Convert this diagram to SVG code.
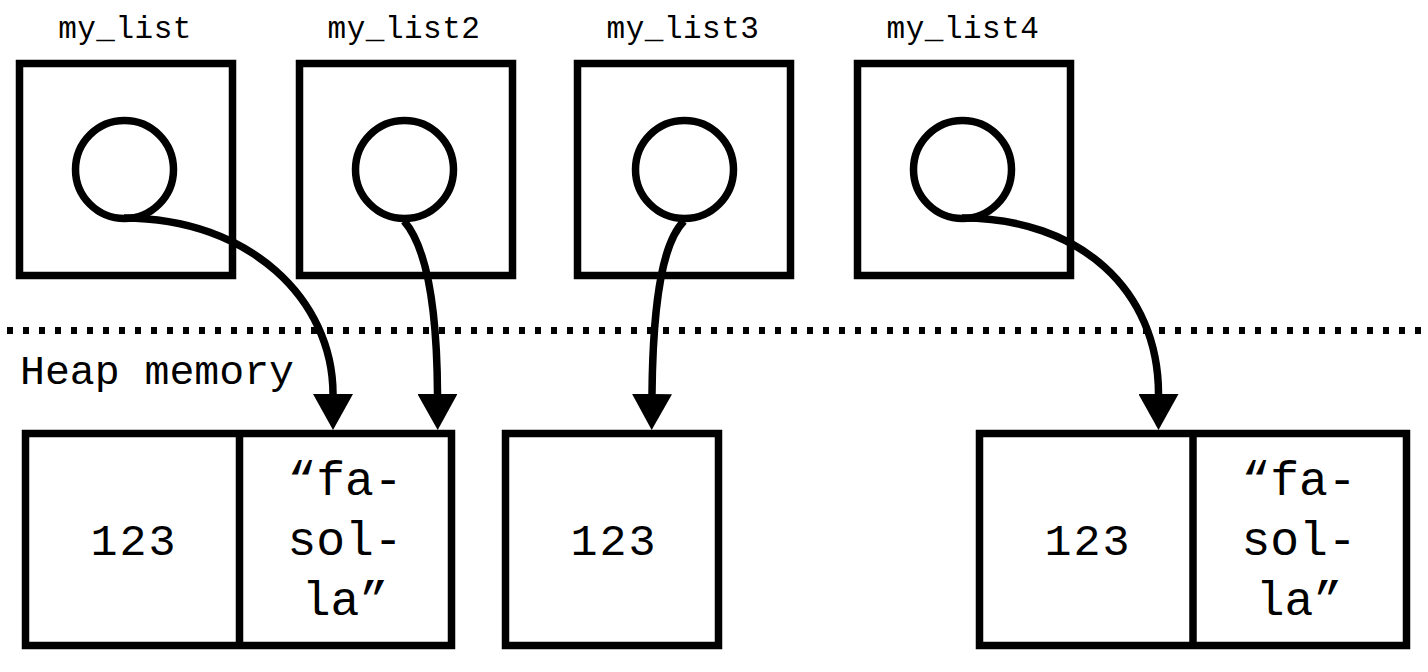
<svg xmlns="http://www.w3.org/2000/svg" width="1428" height="672" viewBox="0 0 1428 672">
<style>
.box{fill:#fff;stroke:#000;stroke-width:7.5}
.ptr{fill:none;stroke:#000;stroke-width:7.5}
.lbl{font-family:"Liberation Mono","Courier New",monospace;font-size:31px;text-anchor:middle;fill:#000;letter-spacing:0.5px}
.num{font-family:"Liberation Mono","DejaVu Sans Mono",monospace;font-size:45px;text-anchor:middle;fill:#000;letter-spacing:2px}
.str{font-family:"Liberation Mono","Courier New",monospace;font-size:48px;text-anchor:middle;fill:#000}
.heap{font-family:"Liberation Mono","Courier New",monospace;font-size:41.5px;fill:#000}
.arr{fill:none;stroke:#000;stroke-width:7.5}
</style>
<defs>
<marker id="ah" markerUnits="userSpaceOnUse" viewBox="0 0 36 40" refX="0" refY="20" markerWidth="36" markerHeight="40" orient="auto">
<path d="M0,0 L36,20 L0,40 Z" fill="#000"/>
</marker>
</defs>
<rect width="1428" height="672" fill="#fff"/>

<g id="var1">
<text class="lbl" x="125" y="38">my_list</text>
<rect class="box" x="19.5" y="63.5" width="213" height="212"/>
<circle class="ptr" cx="124.5" cy="169.5" r="49"/>
</g>
<g id="var2">
<text class="lbl" x="404" y="38">my_list2</text>
<rect class="box" x="299.5" y="63.5" width="213" height="212"/>
<circle class="ptr" cx="404.5" cy="169.5" r="49"/>
</g>
<g id="var3">
<text class="lbl" x="683" y="38">my_list3</text>
<rect class="box" x="577.5" y="63.5" width="213" height="212"/>
<circle class="ptr" cx="684.5" cy="169.5" r="49"/>
</g>
<g id="var4">
<text class="lbl" x="963" y="38">my_list4</text>
<rect class="box" x="857.5" y="63.5" width="213" height="212"/>
<circle class="ptr" cx="962.5" cy="169.5" r="49"/>
</g>

<g id="divider">
<line x1="7" y1="330.5" x2="1428" y2="330.5" stroke="#000" stroke-width="7" stroke-dasharray="6 10"/>
<text class="heap" x="20" y="384">Heap memory</text>
</g>

<g id="heap1">
<rect class="box" x="25.5" y="433.5" width="426" height="212"/>
<line x1="239.5" y1="433.5" x2="239.5" y2="645.5" stroke="#000" stroke-width="7.5"/>
<text class="num" x="134" y="555">123</text>
<text class="str" x="345" y="495">“fa-</text>
<text class="str" x="345" y="555">sol-</text>
<text class="str" x="345" y="615">la”</text>
</g>
<g id="heap2">
<rect class="box" x="505.5" y="433.5" width="213" height="212"/>
<text class="num" x="614" y="555">123</text>
</g>
<g id="heap3">
<rect class="box" x="979.5" y="433.5" width="427" height="212"/>
<line x1="1193" y1="433.5" x2="1193" y2="645.5" stroke="#000" stroke-width="7.5"/>
<text class="num" x="1088" y="555">123</text>
<text class="str" x="1299" y="495">“fa-</text>
<text class="str" x="1299" y="555">sol-</text>
<text class="str" x="1299" y="615">la”</text>
</g>

<g id="connectors">
<path class="arr" d="M124,218 C250,218 333,300 333,394" marker-end="url(#ah)"/>
<path class="arr" d="M404,221 C425,245 437,300 437.5,394" marker-end="url(#ah)"/>
<path class="arr" d="M684,221 C665,240 653,290 652,394" marker-end="url(#ah)"/>
<path class="arr" d="M962,218 C1080,218 1158.5,290 1158.5,394" marker-end="url(#ah)"/>
</g>
</svg>
